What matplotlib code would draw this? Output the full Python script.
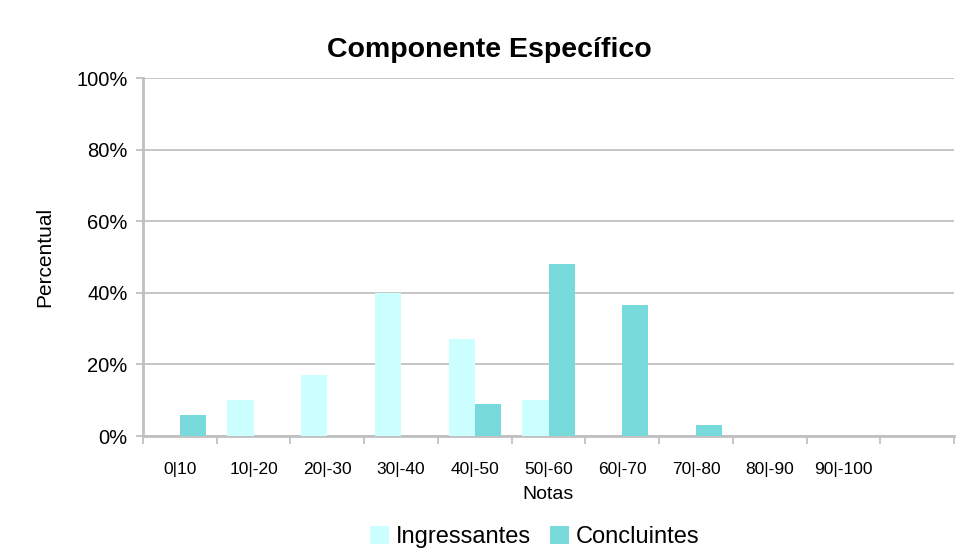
import numpy as np
import matplotlib.pyplot as plt
from matplotlib.ticker import FuncFormatter

plt.rcParams['font.family'] = ['Liberation Sans', 'DejaVu Sans']

# --------------------------
# Data
# --------------------------
faixas = ["0|10", "10|-20", "20|-30", "30|-40", "40|-50", "50|-60",
          "60|-70", "70|-80", "80|-90", "90|-100", ""]
ingressantes = [0, 10, 17, 40, 27, 10, 0, 0, 0, 0, 0]
concluintes = [6, 0, 0, 0, 9, 48, 36.5, 3, 0, 0, 0]

cor_ing = "#ccffff"
cor_con = "#78dada"
cinza = "#c0c0c0"

fig = plt.figure(figsize=(9.59, 5.49), dpi=100)
ax = fig.add_axes([143/959, 1 - 436/549, (954-143)/959, (436-78)/549])

x = np.arange(len(faixas))
w = 0.355
ax.bar(x - w/2, ingressantes, w, color=cor_ing, label="Ingressantes", zorder=3)
ax.bar(x + w/2, concluintes, w, color=cor_con, label="Concluintes", zorder=3)

ax.set_xlim(-0.5, len(faixas) - 0.5)
ax.set_ylim(0, 100)
ax.set_yticks(range(0, 101, 20))
ax.yaxis.set_major_formatter(FuncFormatter(lambda v, p: f"{v:.0f}%"))
ax.grid(axis='y', color=cinza, linewidth=1.3, zorder=0)

# ticks nas divisas das faixas, rotulos no centro
ax.set_xticks(np.arange(len(faixas) + 1) - 0.5)
ax.set_xticklabels([])
ax.set_xticks(x, minor=True)
ax.set_xticklabels(faixas, minor=True, fontsize=12.5)
ax.tick_params(axis='x', which='minor', length=0, pad=19)
ax.tick_params(axis='x', which='major', length=6, width=1.3, color=cinza)
ax.tick_params(axis='y', length=5, width=1.3, color=cinza, labelsize=14.5, pad=6)

for s in ['top', 'right']:
    ax.spines[s].set_visible(False)
for s in ['left', 'bottom']:
    ax.spines[s].set_color(cinza)
    ax.spines[s].set_linewidth(2)

ax.set_ylabel("Percentual", fontsize=15, labelpad=16)
ax.set_xlabel("Notas", fontsize=14, labelpad=6)

fig.text(489/959, 1 - 50/549, "Componente Específico", fontsize=20.5,
         fontweight='bold', ha='center', va='center')

fig.legend(loc='center', bbox_to_anchor=(535/959, 1 - 537/549), ncol=2,
           frameon=False, fontsize=17, handlelength=0.8, handleheight=0.8,
           handletextpad=0.3, columnspacing=0.8)

fig.savefig("out.png", dpi=100)
